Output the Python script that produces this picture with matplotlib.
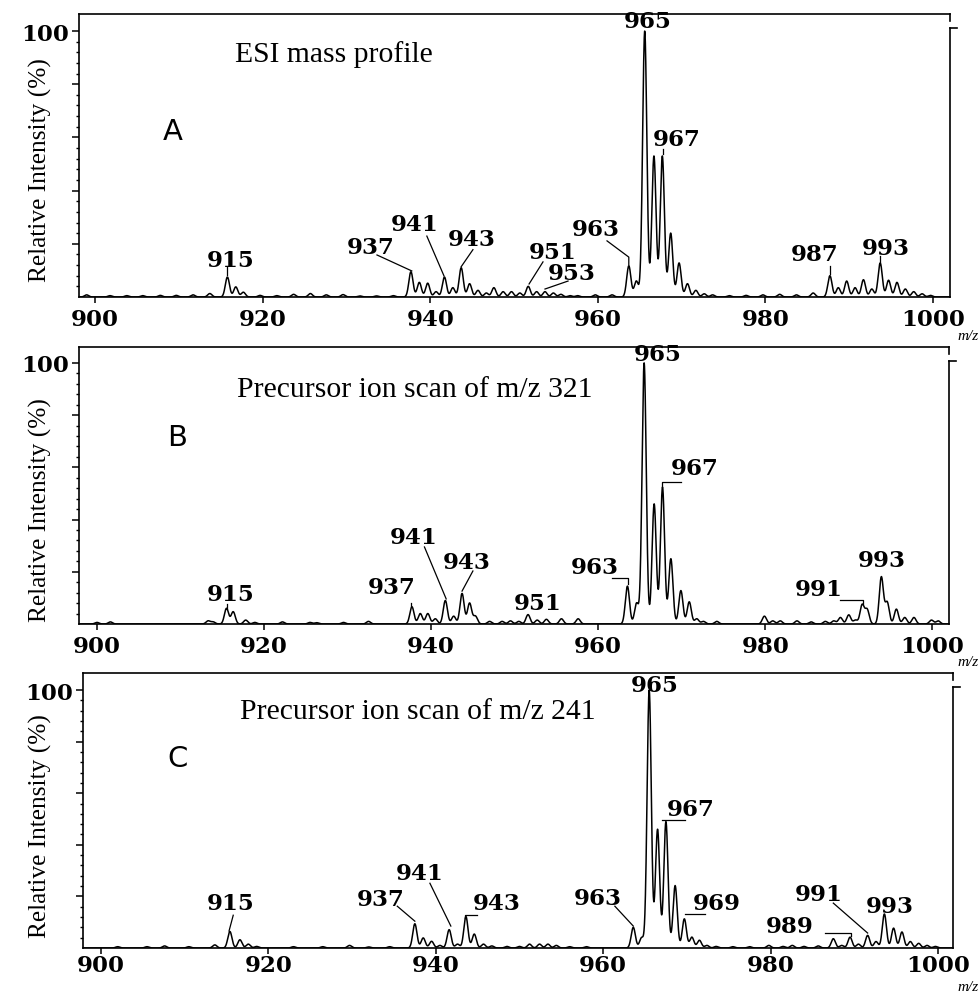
import numpy as np
import matplotlib
matplotlib.use("Agg")
import matplotlib.pyplot as plt
from matplotlib.ticker import FixedLocator

# ---------------- data (peak m/z, relative intensity %) ----------------
mz_a = [899.0, 901.8, 903.8, 905.7, 907.8, 909.7, 911.7, 913.7,
        915.8, 916.8, 917.7, 919.7, 921.7, 923.7, 925.7, 927.6, 929.6, 931.6, 933.6, 935.6,
        937.7, 938.7, 939.7, 940.7, 941.7, 942.7, 943.7, 944.7, 945.7, 946.7,
        947.6, 948.7, 949.7, 950.7, 951.7, 952.7, 953.7, 954.7, 955.6, 956.7,
        957.6, 959.7, 961.7, 963.7, 964.6, 965.6, 966.7, 967.7, 968.7, 969.7,
        970.7, 971.7, 972.7, 973.7, 975.7, 977.7, 979.7, 981.7, 983.7, 985.7,
        987.7, 988.7, 989.7, 990.7, 991.7, 992.7, 993.7, 994.7, 995.7, 996.7,
        997.7, 998.7, 999.7]
int_a = [0.8, 0.5, 0.5, 0.5, 0.6, 0.6, 0.8, 1.3,
         7.5, 3.8, 1.8, 0.6, 0.5, 1.0, 1.3, 0.8, 0.9, 0.4, 0.4, 0.5,
         9.5, 5.5, 5.2, 2.0, 7.5, 3.5, 11.0, 5.0, 2.5, 1.5,
         3.5, 2.0, 2.0, 1.5, 4.0, 2.0, 2.0, 1.5, 1.0, 0.5,
         0.5, 0.8, 0.8, 11.7, 6.0, 100, 53, 53, 24, 12.8,
         5.0, 2.5, 1.2, 0.8, 0.5, 0.6, 0.8, 1.0, 0.8, 1.5,
         8.0, 3.5, 6.0, 3.5, 6.5, 3.0, 12.8, 6.3, 5.5, 3.0,
         2.0, 1.2, 0.6]

mz_b = [900.0, 901.6, 913.3, 913.9, 915.5, 916.3, 917.8, 918.9, 922.2, 925.5,
        926.3, 929.5, 932.5, 937.7, 938.7, 939.6, 940.5, 941.7, 942.7, 943.7,
        944.6, 945.3, 947.0, 948.5, 949.5, 950.5, 951.6, 952.7, 953.8, 955.6,
        957.6, 963.5, 964.6, 965.5, 966.7, 967.7, 968.7, 969.9, 970.9, 971.8,
        972.6, 974.2, 979.9, 980.9, 981.8, 983.8, 985.5, 987.2, 988.2, 989.0,
        990.0, 990.8, 991.6, 992.2, 993.9, 994.6, 995.7, 996.7, 997.8, 999.9,
        1000.7]
int_b = [0.6, 0.8, 1.2, 0.8, 6.0, 4.7, 1.5, 0.6, 0.8, 0.6,
         0.5, 0.6, 1.0, 6.6, 4.0, 4.0, 2.0, 9.0, 3.0, 11.7,
         8.0, 3.0, 1.0, 1.0, 1.2, 1.0, 3.6, 1.5, 1.8, 2.0,
         2.0, 14.5, 8.0, 100, 46, 52.4, 25, 12.8, 8.5, 2.0,
         1.0, 1.0, 3.0, 1.2, 1.2, 1.2, 0.8, 1.0, 1.2, 2.5,
         3.5, 1.5, 7.3, 5.5, 18.0, 8.3, 5.7, 2.5, 2.5, 1.5,
         1.2]

mz_c = [902.0, 905.5, 907.6, 910.5, 913.6, 915.4, 916.6, 917.6, 918.6, 923.0,
        926.5, 929.7, 932.0, 934.5, 937.5, 938.5, 939.5, 940.5, 941.6, 942.6,
        943.6, 944.6, 945.7, 946.7, 948.5, 950.0, 951.2, 952.4, 953.4, 954.4,
        956.0, 958.0, 963.6, 964.6, 965.5, 966.5, 967.5, 968.6, 969.7, 970.6,
        971.5, 972.4, 973.5, 975.5, 977.5, 979.8, 981.5, 982.6, 984.0, 985.7,
        987.5, 988.5, 989.5, 990.5, 991.6, 992.6, 993.6, 994.7, 995.7, 996.7,
        997.7, 998.7, 999.7]
int_c = [0.5, 0.5, 0.8, 0.5, 1.2, 6.4, 3.2, 1.5, 0.6, 0.5,
         0.5, 1.0, 0.4, 0.5, 9.4, 3.9, 2.6, 1.0, 7.1, 1.5,
         12.2, 5.4, 1.5, 0.8, 0.6, 0.6, 1.5, 1.5, 1.5, 1.0,
         0.5, 0.5, 8.0, 4.0, 100, 46, 49, 24.2, 11.3, 4.2,
         3.0, 1.0, 0.6, 0.5, 0.5, 1.0, 0.6, 1.0, 0.6, 0.8,
         3.6, 1.0, 4.2, 1.5, 4.9, 2.5, 13.2, 7.7, 6.2, 2.5,
         1.8, 1.0, 0.6]

# peak labels: text, text position (m/z, %), leader line points
labels_a = [("915", (916.2, 13.9), [(915.8, 11.3), (915.8, 8.3)]),
            ("937", (932.9, 18.8), [(933.65, 15.8), (937.8, 9.8)]),
            ("941", (938.1, 27.6), [(939.6, 22.9), (941.65, 7.9)]),
            ("943", (945.0, 21.8), [(945.1, 17.8), (943.7, 11.4)]),
            ("951", (954.65, 16.9), [(953.46, 13.2), (951.8, 4.9)]),
            ("953", (956.9, 9.0), [(956.45, 6.0), (953.7, 3.0)]),
            ("963", (959.8, 25.6), [(961.1, 21.1), (963.7, 15.0), (963.7, 12.0)]),
            ("965", (965.9, 103.6), []),
            ("967", (969.45, 59.4), [(967.8, 55.6), (967.8, 53.8)]),
            ("987", (985.9, 16.2), [(987.7, 11.7), (987.7, 8.6)]),
            ("993", (994.4, 18.4), [(993.7, 15.4), (993.7, 13.2)])]
labels_b = [("915", (916.05, 11.5), [(915.6, 7.7), (915.6, 5.9)]),
            ("937", (935.3, 14.2), [(937.6, 7.9), (937.6, 6.8)]),
            ("941", (937.85, 33.5), [(939.2, 29.5), (941.8, 9.6)]),
            ("943", (944.3, 23.9), [(945.0, 20.3), (943.7, 12.6)]),
            ("951", (952.8, 7.9), []),
            ("963", (959.6, 22.0), [(961.7, 17.6), (963.6, 17.6), (963.6, 15.3)]),
            ("965", (967.1, 103.6), []),
            ("967", (971.6, 59.6), [(969.9, 54.5), (967.66, 54.5), (967.66, 52.5)]),
            ("991", (986.35, 13.4), [(989.0, 9.3), (991.7, 9.3), (991.7, 7.5)]),
            ("993", (993.9, 24.5), [])]
labels_c = [("915", (915.5, 17.4), [(915.8, 12.7), (915.3, 6.6)]),
            ("937", (933.45, 19.0), [(935.4, 16.2), (937.5, 10.4)]),
            ("941", (938.1, 29.2), [(939.3, 25.1), (941.8, 8.5)]),
            ("943", (947.3, 17.4), [(944.9, 12.7), (943.5, 12.7), (943.5, 11.6)]),
            ("963", (959.4, 19.5), [(961.4, 16.2), (963.6, 8.5)]),
            ("965", (966.2, 102.1), []),
            ("967", (970.5, 53.7), [(967.0, 49.8), (969.8, 49.8)]),
            ("969", (973.6, 17.4), [(969.8, 13.1), (972.2, 13.1)]),
            ("989", (982.3, 8.7), [(986.5, 5.8), (989.6, 5.8), (989.6, 4.6)]),
            ("991", (985.7, 21.0), [(987.5, 17.4), (991.6, 5.8)]),
            ("993", (994.3, 16.4), [])]

titles = ["ESI mass profile", "Precursor ion scan of m/z 321", "Precursor ion scan of m/z 241"]
letters = ["A", "B", "C"]
xticks = [900, 920, 940, 960, 980, 1000]

# ---------------- layout (pixels) ----------------
W, H = 980, 995
fig = plt.figure(figsize=(W / 100, H / 100), dpi=100)

def rect(l, r, t, b):
    return [l / W, 1 - b / H, (r - l) / W, (b - t) / H]

panels = [
    dict(rect=rect(79, 950, 15, 298), xlim=(898.09, 1002.03), ylim=(0, 106.4),
         mz=mz_a, inten=int_a, labels=labels_a, title_xy=(916.7, 91.4), letter_xy=(909.3, 62.4),
         ylab_y=170, mz_y=336, brk=(103.8, 101.0), pad=4),
    dict(rect=rect(79, 949, 348, 625), xlim=(897.84, 1002.0), ylim=(0, 106.1),
         mz=mz_b, inten=int_b, labels=labels_b, title_xy=(916.8, 90.0), letter_xy=(909.6, 71.6),
         ylab_y=510, mz_y=663, brk=(103.6, 100.8), pad=4),
    dict(rect=rect(83, 953, 674, 949), xlim=(897.85, 1001.8), ylim=(0, 106.6),
         mz=mz_c, inten=int_c, labels=labels_c, title_xy=(916.6, 91.9), letter_xy=(909.1, 73.7),
         ylab_y=826, mz_y=987.5, brk=(104.0, 101.2), pad=0.5),
]

sigma = 0.25
num_font = dict(family="DejaVu Serif", fontweight="bold", fontsize=16.5)
lw_axis = 1.2

for i, p in enumerate(panels):
    ax = fig.add_axes(p["rect"])
    x = np.linspace(p["xlim"][0], p["xlim"][1], 8000)
    y = np.zeros_like(x)
    for m, h in zip(p["mz"], p["inten"]):
        y += h * np.exp(-0.5 * ((x - m) / sigma) ** 2)
    ax.plot(x, y, color="black", lw=1.1, solid_joinstyle="round")
    ax.set_xlim(*p["xlim"])
    ax.set_ylim(*p["ylim"])

    for s in ("left", "top", "bottom"):
        ax.spines[s].set_linewidth(lw_axis)
    ax.spines["right"].set_visible(False)
    yt = ax.get_yaxis_transform()
    ax.plot([1, 1], [p["ylim"][1], p["brk"][0]], transform=yt, color="black", lw=lw_axis, clip_on=False)
    ax.plot([1, 1], [p["brk"][1], 0], transform=yt, color="black", lw=lw_axis, clip_on=False)
    ax.plot([1, 1 + 7 / 870], [p["brk"][1], p["brk"][1]], transform=yt, color="black", lw=lw_axis, clip_on=False)

    ax.xaxis.set_major_locator(FixedLocator(xticks))
    ax.yaxis.set_major_locator(FixedLocator([20, 40, 60, 80, 100]))
    ax.yaxis.set_minor_locator(FixedLocator([v for v in range(4, 100, 4) if v % 20 != 0]))
    ax.set_yticklabels(["", "", "", "", "100"])
    ax.set_xticklabels([str(v) for v in xticks])
    ax.tick_params(axis="x", which="major", direction="out", length=4, width=1.1, pad=p["pad"])
    ax.tick_params(axis="y", which="major", direction="out", length=5, width=1.1, pad=2)
    ax.tick_params(axis="y", which="minor", direction="out", length=2.5, width=1.0)
    for lab in ax.get_xticklabels() + ax.get_yticklabels():
        lab.set_fontfamily("DejaVu Serif")
        lab.set_fontweight("bold")
        lab.set_fontsize(16.5)

    # peak labels
    for txt, (tx, ty), pts in p["labels"]:
        ax.text(tx, ty, txt, ha="center", va="center", **num_font)
        if pts:
            ax.plot([q[0] for q in pts], [q[1] for q in pts], color="black", lw=0.9)

    ax.text(p["title_xy"][0], p["title_xy"][1], titles[i], ha="left", va="center",
            family="Liberation Serif", fontsize=21.3)
    ax.text(p["letter_xy"][0], p["letter_xy"][1], letters[i], ha="center", va="center",
            family=["Liberation Sans Narrow", "DejaVu Sans"], fontsize=21)

    fig.text(40 / W, 1 - p["ylab_y"] / H, "Relative Intensity (%)", rotation=90,
             ha="center", va="center", family="Liberation Serif", fontsize=18.3)
    fig.text(957 / W, 1 - p["mz_y"] / H, "m/z", ha="left", va="center",
             family="Liberation Serif", style="italic", fontsize=11)

fig.savefig("out.png", dpi=100)
